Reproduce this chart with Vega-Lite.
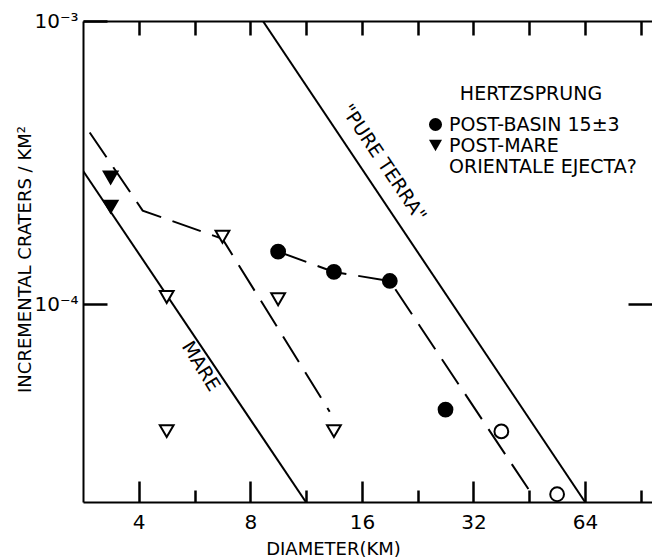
{
  "$schema": "https://vega.github.io/schema/vega-lite/v6.json",
  "width": 569,
  "height": 481,
  "autosize": {"type": "none"},
  "padding": {"left": 83, "top": 21, "right": 0, "bottom": 57},
  "background": "white",
  "config": {
    "font": "DejaVu Sans",
    "view": {"stroke": null},
    "axis": {"grid": false, "ticks": true, "tickColor": "#000", "tickOpacity": 1, "tickWidth": 2.5, "domainColor": "black", "labelColor": "black", "titleColor": "black", "domainWidth": 2, "titleFontWeight": "normal"}
  },
  "datasets": {
    "lines": [
      {"series": "mare", "order": 1, "d": 2.83, "n": 0.000296},
      {"series": "mare", "order": 2, "d": 11.3, "n": 0.00002},
      {"series": "terra", "order": 1, "d": 8.65, "n": 0.001},
      {"series": "terra", "order": 2, "d": 64, "n": 0.00002},
      {"series": "postmare", "order": 1, "d": 2.95, "n": 0.000404},
      {"series": "postmare", "order": 2, "d": 4.1, "n": 0.000214},
      {"series": "postmare", "order": 3, "d": 6.73, "n": 0.00017},
      {"series": "postmare", "order": 4, "d": 13.1, "n": 0.0000417},
      {"series": "postbasin", "order": 1, "d": 9.51, "n": 0.0001533},
      {"series": "postbasin", "order": 2, "d": 13.45, "n": 0.0001299},
      {"series": "postbasin", "order": 3, "d": 19.03, "n": 0.0001207},
      {"series": "postbasin", "order": 4, "d": 46.9, "n": 0.0000205}
    ],
    "points": [
      {"group": "POST-BASIN 15±3", "d": 9.51, "n": 0.0001533},
      {"group": "POST-BASIN 15±3", "d": 13.45, "n": 0.0001299},
      {"group": "POST-BASIN 15±3", "d": 19.03, "n": 0.0001207},
      {"group": "POST-BASIN 15±3", "d": 26.9, "n": 0.0000424},
      {"group": "post-basin open", "d": 38.05, "n": 0.0000355},
      {"group": "post-basin open", "d": 53.8, "n": 0.0000213},
      {"group": "POST-MARE ORIENTALE EJECTA?", "d": 3.36, "n": 0.00028},
      {"group": "POST-MARE ORIENTALE EJECTA?", "d": 3.36, "n": 0.000221},
      {"group": "post-mare open", "d": 6.73, "n": 0.000173},
      {"group": "post-mare open", "d": 4.76, "n": 0.000106},
      {"group": "post-mare open", "d": 9.51, "n": 0.000104},
      {"group": "post-mare open", "d": 4.76, "n": 0.0000356},
      {"group": "post-mare open", "d": 13.45, "n": 0.0000356}
    ],
    "labels": [
      {"label": "MARE", "d": 5.88, "n": 0.0000603},
      {"label": "\"PURE TERRA\"", "d": 18.3, "n": 0.000315}
    ]
  },
  "resolve": {"axis": {"x": "independent", "y": "independent"}},
  "layer": [
    {
      "data": {"name": "lines"},
      "transform": [{"filter": "datum.series == 'mare' || datum.series == 'terra'"}],
      "mark": {"type": "line", "color": "black", "strokeWidth": 2, "clip": true},
      "encoding": {
        "detail": {"field": "series"},
        "order": {"field": "order"},
        "x": {"field": "d", "type": "quantitative", "scale": {"type": "log", "base": 2, "domain": [2.83, 97], "nice": false, "zero": false},
          "axis": {"orient": "bottom", "values": [4, 8, 16, 32, 64], "format": "d", "tickSize": -21, "labelPadding": 31, "labelFontSize": 20, "title": "DIAMETER(KM)", "titleFontSize": 18, "titleX": 250, "titleY": 52, "titleBaseline": "alphabetic"}},
        "y": {"field": "n", "type": "quantitative", "scale": {"type": "log", "domain": [0.00002, 0.001], "nice": false, "zero": false},
          "axis": {"orient": "left", "values": [0.0001, 0.001], "labelExpr": "datum.value > 0.0005 ? '10⁻³' : '10⁻⁴'", "tickSize": -24, "labelPadding": 29, "labelFontSize": 20, "title": "INCREMENTAL CRATERS / KM²", "titleFontSize": 18, "titleX": -58, "titleY": 238, "titleBaseline": "middle"}}
      }
    },
    {
      "data": {"name": "lines"},
      "transform": [{"filter": "datum.series == 'postmare' || datum.series == 'postbasin'"}],
      "mark": {"type": "line", "color": "black", "strokeWidth": 2, "strokeDash": [30, 12], "clip": true},
      "encoding": {
        "detail": {"field": "series"},
        "order": {"field": "order"},
        "x": {"field": "d", "type": "quantitative",
          "axis": {"orient": "top", "values": [4, 5.657, 8, 11.31, 16, 22.63, 32, 45.25, 64, 90.51], "labels": false, "tickSize": -14, "title": null}},
        "y": {"field": "n", "type": "quantitative",
          "axis": {"orient": "right", "values": [0.0001], "labels": false, "domain": false, "tickSize": -24, "title": null}}
      }
    },
    {
      "data": {"name": "points"},
      "mark": {"type": "point", "filled": false, "strokeWidth": 2, "size": 190, "opacity": 1},
      "encoding": {
        "x": {"field": "d", "type": "quantitative",
          "axis": {"orient": "bottom", "values": [5.657, 11.31, 22.63, 45.25, 90.51], "labels": false, "domain": false, "tickSize": -12, "title": null}},
        "y": {"field": "n", "type": "quantitative", "axis": null},
        "shape": {"field": "group", "type": "nominal",
          "scale": {"domain": ["POST-BASIN 15±3", "POST-MARE ORIENTALE EJECTA?", "post-basin open", "post-mare open"], "range": ["circle", "triangle-down", "circle", "triangle-down"]},
          "legend": {"values": ["POST-BASIN 15±3", "POST-MARE ORIENTALE EJECTA?"], "title": "HERTZSPRUNG", "orient": "none", "legendX": 343, "legendY": 64, "titleFontSize": 19, "titleFontWeight": "normal", "titleAnchor": "middle", "titlePadding": 11, "titleColor": "black", "labelFontSize": 19, "labelColor": "black", "labelLimit": 400, "symbolSize": 170, "symbolStrokeWidth": 0, "symbolFillColor": "black", "rowPadding": 1, "labelExpr": "datum.label == 'POST-MARE ORIENTALE EJECTA?' ? ['POST-MARE', 'ORIENTALE EJECTA?'] : datum.label"}},
        "fill": {"field": "group", "type": "nominal",
          "scale": {"domain": ["POST-BASIN 15±3", "POST-MARE ORIENTALE EJECTA?", "post-basin open", "post-mare open"], "range": ["black", "black", "white", "white"]},
          "legend": null},
        "stroke": {"value": "black"}
      }
    },
    {
      "data": {"name": "labels"},
      "transform": [{"filter": "datum.label == 'MARE'"}],
      "mark": {"type": "text", "angle": 58, "fontSize": 19, "color": "black", "align": "center", "baseline": "middle"},
      "encoding": {
        "x": {"field": "d", "type": "quantitative", "axis": null},
        "y": {"field": "n", "type": "quantitative", "axis": null},
        "text": {"field": "label"}
      }
    },
    {
      "data": {"name": "labels"},
      "transform": [{"filter": "datum.label != 'MARE'"}],
      "mark": {"type": "text", "angle": 56, "fontSize": 19, "color": "black", "align": "center", "baseline": "middle"},
      "encoding": {
        "x": {"field": "d", "type": "quantitative", "axis": null},
        "y": {"field": "n", "type": "quantitative", "axis": null},
        "text": {"field": "label"}
      }
    }
  ]
}
